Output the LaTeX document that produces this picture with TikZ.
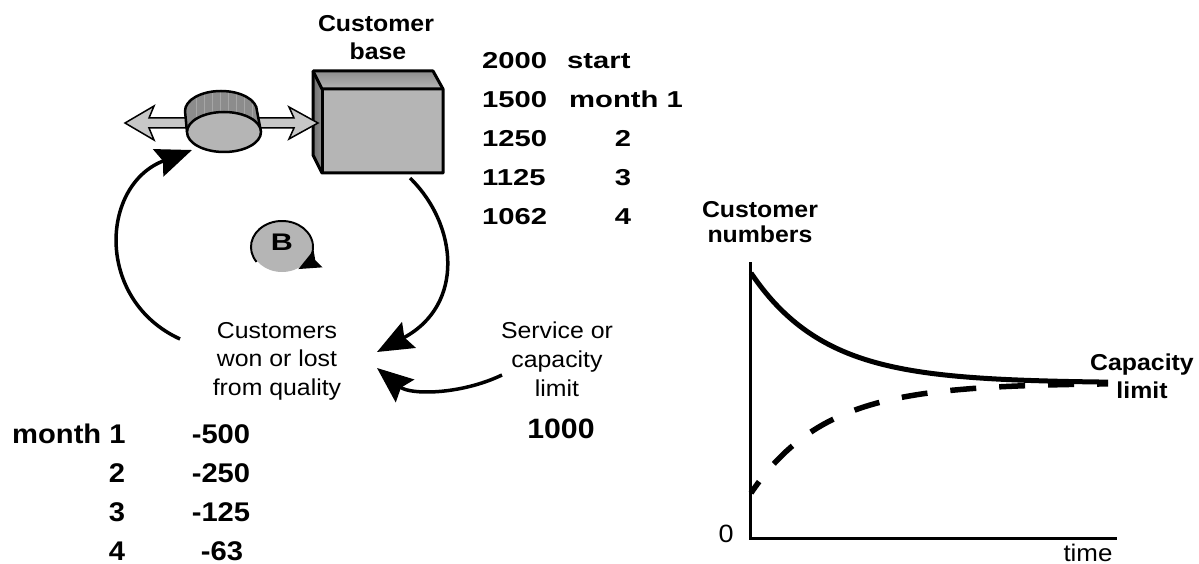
\documentclass[tikz,border=0pt]{standalone}
\usepackage{fontspec}
\setmainfont{Liberation Sans}[FakeStretch=1.08]
\newfontfamily\widefont{Liberation Sans}[FakeStretch=1.27]
\usetikzlibrary{arrows.meta}

\definecolor{pipegray}{gray}{0.78}
\definecolor{frontgray}{gray}{0.71}
\definecolor{darkgray}{gray}{0.55}
\definecolor{loopgray}{gray}{0.71}

\begin{document}
\begin{tikzpicture}[x=1pt,y=-1pt,
  txt/.style={inner sep=0pt, anchor=base, font=\fontsize{23}{28}\selectfont},
  btxt/.style={inner sep=0pt, anchor=base, font=\fontsize{23}{28}\selectfont\bfseries},
  tbl/.style={inner sep=0pt, anchor=base west, font=\widefont\fontsize{23}{28}\selectfont\bfseries},
  ttbl/.style={inner sep=0pt, anchor=base, font=\fontsize{27}{32}\selectfont\bfseries},
  link/.style={line width=3.5pt, -{Stealth[length=36pt,width=29pt,inset=5pt]}},
  pipe/.style={fill=pipegray, draw=black, line width=1.5pt, line join=miter},
  outline/.style={draw=black, line width=2.5pt, line join=round},
]
\useasboundingbox (0,0) rectangle (1199,564);

% ---------- stock: customer base (3-D box) ----------
\shade[top color=darkgray, bottom color=frontgray]
  (313,71) -- (433,71) -- (443,89) -- (322,89) -- cycle;
\shade[left color=darkgray!80!black, right color=darkgray]
  (313,71) -- (322,89) -- (322,173) -- (313,155) -- cycle;
\fill[frontgray] (322,89) rectangle (443,173);
\draw[outline, line width=3pt] (313,71) -- (433,71) -- (443,89) -- (443,173) -- (322,173) -- (313,155) -- cycle;
\draw[outline, line width=3pt] (313,71) -- (322,89) -- (443,89);
\draw[outline, line width=3pt] (322,89) -- (322,173);
\coordinate (boxout) at (410,178);

\node[btxt] (cbase1) at (376,32) {Customer};
\node[btxt] (cbase2) at (378,60) {base};

% ---------- flow pipe with double arrow ----------
\draw[pipe] (125,123) -- (154,106) -- (149,118) -- (205,118) -- (205,128)
  -- (149,128) -- (154,140) -- cycle;
\draw[pipe] (245,118) -- (294,118) -- (289,107) -- (318,123) -- (289,139)
  -- (294,128) -- (245,128) -- cycle;

% ---------- valve ----------
\fill[darkgray] (221,111) ellipse [x radius=36, y radius=20];
\fill[darkgray] (185,111) -- (187,132) -- (261,132) -- (257,111) -- cycle;
\begin{scope}
  \clip (221,111) ellipse [x radius=35, y radius=19];
  \foreach \sx in {196,204,...,252}
    \draw[gray!70, line width=0.6pt] (\sx,90) -- (\sx,118);
\end{scope}
\draw[outline] (185,111) arc[start angle=180, end angle=360, x radius=36, y radius=20];
\draw[outline] (185,111) -- (187,132);
\draw[outline] (257,111) -- (261,132);
\filldraw[fill=frontgray, outline] (224,132) ellipse [x radius=37, y radius=20];
\coordinate (valvein) at (192,150);

% ---------- balancing loop marker ----------
\fill[loopgray] (282,247) ellipse [x radius=30, y radius=25];
\draw[line width=2pt, -{Stealth[length=22pt,width=19pt,inset=3pt]}]
  (282,247) ++(145:31 and 26) arc[start angle=145, end angle=418, x radius=31, y radius=26];
\node[inner sep=0pt, anchor=base, font=\widefont\fontsize{24}{28}\selectfont\bfseries] (loopB) at (282,251) {B};

% ---------- stock values ----------
\node[tbl] (v0) at (482,69) {2000};
\node[tbl] (v1) at (482,108) {1500};
\node[tbl] (v2) at (482,147) {1250};
\node[tbl] (v3) at (482,186) {1125};
\node[tbl] (v4) at (482,225) {1062};
\node[tbl] (m0) at (567,69) {start};
\node[tbl] (m1) at (569,108) {month 1};
\node[tbl, anchor=base] (m2) at (623,147) {2};
\node[tbl, anchor=base] (m3) at (623,186) {3};
\node[tbl, anchor=base] (m4) at (623,225) {4};

% ---------- auxiliary variables ----------
\node[txt] (won1) at (277,338) {Customers};
\node[txt] (won2) at (277,366.5) {won or lost};
\node[txt] (won3) at (277,395) {from quality};
\coordinate (wonout) at (180,339);
\coordinate (wonin1) at (377,352);
\coordinate (wonin2) at (377,368);

\node[txt] (svc1) at (557,338) {Service or};
\node[txt] (svc2) at (557,367) {capacity};
\node[txt] (svc3) at (557,396) {limit};
\node[inner sep=0pt, anchor=base, font=\fontsize{28}{33}\selectfont\bfseries] (svcval) at (561,438) {1000};
\coordinate (svcout) at (502,375);

% ---------- causal links ----------
\draw[link] (wonout) .. controls (95,300) and (100,185) .. (valvein);
\draw[link] (boxout) .. controls (458,225) and (465,305) .. (wonin1);
\draw[link] (svcout) .. controls (460,395) and (410,395) .. (wonin2);

% ---------- flow values ----------
\node[ttbl, anchor=base west] (f1) at (12,443) {month 1};
\node[ttbl] (f2) at (117,482) {2};
\node[ttbl] (f3) at (117,521) {3};
\node[ttbl] (f4) at (117,560) {4};
\node[ttbl] (g1) at (221,443) {-500};
\node[ttbl] (g2) at (221,482) {-250};
\node[ttbl] (g3) at (221,521) {-125};
\node[ttbl] (g4) at (222,560) {-63};

% ---------- behaviour over time graph ----------
\draw[line width=3pt] (750,262) -- (750,538) -- (1117,538);
\draw[line width=5pt, line join=round]
  plot[domain=751:1108, samples=80, smooth] (\x, {383-110*exp(-0.0135*(\x-751))});
\draw[line width=5.5pt, dash pattern=on 26pt off 23pt, dash phase=12pt]
  plot[domain=751:1108, samples=80, smooth] (\x, {383+110*exp(-0.0135*(\x-751))});

\node[btxt] (ylab1) at (760,218) {Customer};
\node[btxt] (ylab2) at (760,243) {numbers};
\node[inner sep=0pt, anchor=base, font=\fontsize{25}{30}\selectfont] (zero) at (726,542) {0};
\node[inner sep=0pt, anchor=base, font=\fontsize{24}{29}\selectfont] (tlab) at (1088,561) {time};
\node[btxt] (cap1) at (1142,370) {Capacity};
\node[btxt] (cap2) at (1142,398) {limit};
\end{tikzpicture}
\end{document}
